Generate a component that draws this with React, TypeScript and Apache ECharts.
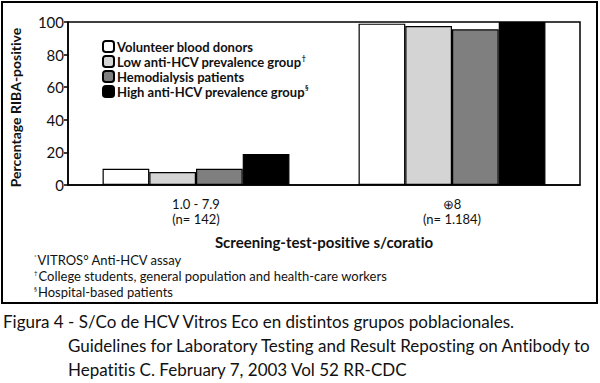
import React, { useEffect, useRef } from "react";
import * as echarts from "echarts";

const categories = ["1.0 - 7.9\n(n= 142)", "⊕8\n(n= 1.184)"];
const seriesNames = [
  "Volunteer blood donors",
  "Low anti-HCV prevalence group",
  "Hemodialysis patients",
  "High anti-HCV prevalence group",
];
const seriesSup = ["", "†", "", "§"];
const volunteerDonors = [10, 99];
const lowPrevalence = [8, 97.5];
const hemodialysis = [10, 95.5];
const highPrevalence = [19, 100];
const seriesColors = ["#ffffff", "#d4d4d4", "#7f7f7f", "#000000"];
const footnotes = [
  ["*", "VITROS° Anti-HCV assay"],
  ["†", "College students, general population and health-care workers"],
  ["§", "Hospital-based patients"],
];
const captionLines = [
  "Figura 4 - S/Co de HCV Vitros Eco en distintos grupos poblacionales.",
  "Guidelines for Laboratory Testing and Result Reposting on Antibody to",
  "Hepatitis C. February 7, 2003 Vol 52 RR-CDC",
];

const FONT = "Lato";

export default function App() {
  const ref = useRef<HTMLDivElement>(null);
  useEffect(() => {
    document.body.style.margin = "0";
    const chart = echarts.init(ref.current!, undefined, { renderer: "svg" });
    const values = [volunteerDonors, lowPrevalence, hemodialysis, highPrevalence];
    const supMap: Record<string, string> = {};
    seriesNames.forEach((n, i) => (supMap[n] = seriesSup[i]));
    chart.setOption({
      animation: false,
      backgroundColor: "#fff",
      textStyle: { fontFamily: FONT },
      grid: { left: 66, right: 20, top: 22, bottom: 198, show: true, borderColor: "#000", borderWidth: 1.5, containLabel: false },
      legend: {
        orient: "vertical",
        left: 97,
        top: 34,
        itemWidth: 11,
        itemHeight: 11,
        itemGap: 0,
        data: seriesNames,
        formatter: (n: string) => (supMap[n] ? `${n}{sup|${supMap[n]}}` : n),
        textStyle: {
          fontFamily: FONT,
          fontSize: 13,
          lineHeight: 15,
          fontWeight: "bold",
          color: "#111",
          padding: [0, 0, 0, -2],
          rich: { sup: { fontSize: 7, lineHeight: 15, verticalAlign: "top", padding: [0, 0, 0, 0], fontFamily: FONT, color: "#111" } },
        },
      },
      xAxis: {
        type: "category",
        data: categories,
        name: "Screening-test-positive s/coratio",
        nameLocation: "middle",
        nameGap: 49,
        nameTextStyle: { fontFamily: FONT, fontSize: 15, fontWeight: "bold", color: "#111" },
        axisLine: { lineStyle: { color: "#000", width: 1.5 } },
        axisTick: { alignWithLabel: true, length: 7, lineStyle: { color: "#000", width: 1.5 } },
        axisLabel: { fontFamily: FONT, fontSize: 13, color: "#111", lineHeight: 15, margin: 11 },
      },
      yAxis: {
        type: "value",
        min: 0,
        max: 100,
        interval: 20,
        name: "Percentage RIBA-positive",
        nameLocation: "middle",
        nameGap: 46,
        nameTextStyle: { fontFamily: FONT, fontSize: 14, fontWeight: "bold", color: "#111", padding: [0, 0, 0, -8] },
        axisLine: { show: true, lineStyle: { color: "#000", width: 1.5 } },
        axisTick: { show: true, length: 4, lineStyle: { color: "#000", width: 1.5 } },
        axisLabel: { fontFamily: FONT, fontSize: 15, color: "#111", margin: 4 },
        splitLine: { show: false },
      },
      series: seriesNames.map((name, i) => ({
        name,
        type: "bar",
        data: values[i],
        barGap: "0%",
        barCategoryGap: "27%",
        itemStyle: { color: seriesColors[i], borderColor: "#000", borderWidth: 1.2 },
      })),
      graphic: [
        { type: "rect", shape: { x: 2, y: 2, width: 595, height: 301 }, style: { fill: "none", stroke: "#000", lineWidth: 2 }, silent: true },
        ...footnotes.map((f, i) => ({
          type: "text",
          left: 34,
          top: 253 + i * 16,
          style: {
            text: `{sup|${f[0]}}${f[1]}`,
            fontFamily: FONT,
            fontSize: 13,
            fill: "#111",
            rich: { sup: { fontSize: 6, verticalAlign: "top", padding: [0, 1, 6, 0], fontFamily: FONT, fill: "#111" } },
          },
        })),
        ...captionLines.map((t, i) => ({
          type: "text",
          left: i === 0 ? 3 : 68,
          top: 313 + i * 24,
          style: { text: t, fontFamily: FONT, fontSize: 17, fill: "#111" },
        })),
      ],
    });
    return () => chart.dispose();
  }, []);
  return (
    <>
      <style>{"text { font-variant-ligatures: none; font-feature-settings: 'liga' 0; }"}</style>
      <div ref={ref} style={{ width: 600, height: 383, position: "absolute", left: 0, top: 0 }} />
    </>
  );
}
